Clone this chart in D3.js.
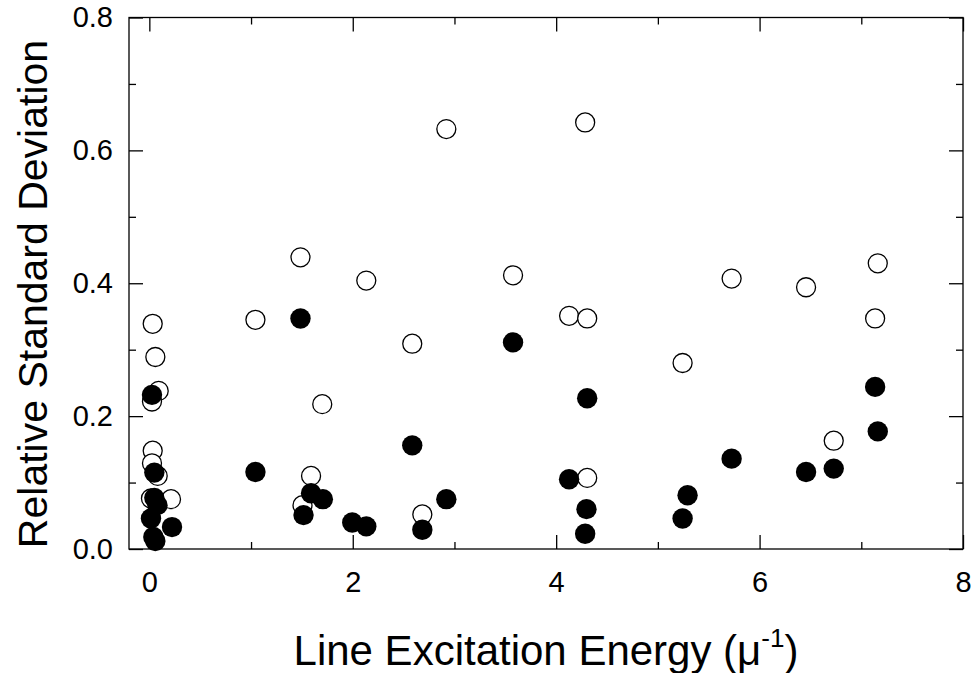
<!DOCTYPE html>
<html>
<head>
<meta charset="utf-8">
<script src="https://cdn.jsdelivr.net/npm/d3@7"></script>
<style>
  body { margin: 0; background: #fff; }
  .g-chart text { font-family: Arial, "Liberation Sans", sans-serif; fill: #000; }
</style>
</head>
<body>
<div class="g-chart"></div>
<script>
// open circles [energy, rsd]
var openPoints = [
  [0.033, 0.339], [0.059, 0.289], [0.092, 0.238], [0.026, 0.222], [0.033, 0.148],
  [0.026, 0.129], [0.082, 0.110], [0.213, 0.075], [0.016, 0.076],
  [1.043, 0.345], [1.486, 0.439], [1.590, 0.110], [1.506, 0.066], [1.700, 0.218],
  [2.133, 0.404], [2.585, 0.309], [2.684, 0.052], [2.920, 0.632], [3.576, 0.412],
  [4.127, 0.351], [4.305, 0.347], [4.285, 0.642], [4.305, 0.107], [5.243, 0.280],
  [5.725, 0.407], [6.457, 0.394], [6.729, 0.163], [7.136, 0.347], [7.162, 0.430]
];
// filled circles [energy, rsd]
var filledPoints = [
  [0.026, 0.232], [0.049, 0.115], [0.049, 0.077], [0.080, 0.066], [0.016, 0.046],
  [0.223, 0.033], [0.039, 0.018], [0.059, 0.012],
  [1.043, 0.116], [1.486, 0.347], [1.590, 0.084], [1.706, 0.075], [1.516, 0.051],
  [1.995, 0.040], [2.133, 0.034], [2.585, 0.156], [2.684, 0.029], [2.920, 0.075],
  [3.576, 0.311], [4.127, 0.105], [4.305, 0.227], [4.298, 0.060], [4.285, 0.023],
  [5.243, 0.046], [5.292, 0.081], [5.725, 0.136], [6.457, 0.116], [6.729, 0.121],
  [7.136, 0.244], [7.162, 0.177]
];
var xMajor = [0, 2, 4, 6, 8];
var xMinor = [1, 3, 5, 7];
var yMajor = [0, 0.2, 0.4, 0.6, 0.8];
var yMinor = [0.1, 0.3, 0.5, 0.7];

function drawChart() {
  var W = 977, H = 673;
  var margin = {top: 17.5, right: 14, bottom: 124, left: 129};
  var width = W - margin.left - margin.right;
  var height = H - margin.top - margin.bottom;

  var svg = d3.select(".g-chart").html("").append("svg")
      .attr("width", W)
      .attr("height", H);
  var g = svg.append("g")
      .attr("transform", "translate(" + margin.left + "," + margin.top + ")");

  var x = d3.scaleLinear().domain([-0.2, 8]).range([0, width]);
  var y = d3.scaleLinear().domain([0, 0.8]).range([height, 0]);

  function styleAxis(sel) {
    sel.attr("font-size", null).attr("font-family", null);
    sel.select(".domain").remove();
    sel.selectAll(".tick line").attr("stroke", "#000").attr("stroke-width", 1.3);
    sel.selectAll(".tick text").style("font-size", "29px");
  }

  // bottom
  g.append("g").attr("transform", "translate(0," + height + ")")
    .call(d3.axisBottom(x).tickValues(xMajor).tickSizeInner(-14).tickSizeOuter(0).tickPadding(22).tickFormat(d3.format("d")))
    .call(styleAxis);
  g.append("g").attr("transform", "translate(0," + height + ")")
    .call(d3.axisBottom(x).tickValues(xMinor).tickSizeInner(-7).tickSizeOuter(0).tickFormat(""))
    .call(styleAxis);
  // top
  g.append("g")
    .call(d3.axisTop(x).tickValues(xMajor).tickSizeInner(-14).tickSizeOuter(0).tickFormat(""))
    .call(styleAxis);
  g.append("g")
    .call(d3.axisTop(x).tickValues(xMinor).tickSizeInner(-7).tickSizeOuter(0).tickFormat(""))
    .call(styleAxis);
  // left
  g.append("g")
    .call(d3.axisLeft(y).tickValues(yMajor).tickSizeInner(-14).tickSizeOuter(0).tickPadding(16).tickFormat(d3.format(".1f")))
    .call(styleAxis);
  g.append("g")
    .call(d3.axisLeft(y).tickValues(yMinor).tickSizeInner(-7).tickSizeOuter(0).tickFormat(""))
    .call(styleAxis);
  // right
  g.append("g").attr("transform", "translate(" + width + ",0)")
    .call(d3.axisRight(y).tickValues(yMajor).tickSizeInner(-14).tickSizeOuter(0).tickFormat(""))
    .call(styleAxis);
  g.append("g").attr("transform", "translate(" + width + ",0)")
    .call(d3.axisRight(y).tickValues(yMinor).tickSizeInner(-7).tickSizeOuter(0).tickFormat(""))
    .call(styleAxis);

  // frame
  g.append("rect")
    .attr("width", width)
    .attr("height", height)
    .attr("fill", "none")
    .attr("stroke", "#000")
    .attr("stroke-width", 1.3);

  g.append("g").selectAll("circle")
    .data(openPoints)
    .join("circle")
      .attr("cx", d => x(d[0]))
      .attr("cy", d => y(d[1]))
      .attr("r", 9.5)
      .attr("fill", "#fff")
      .attr("stroke", "#000")
      .attr("stroke-width", 1.3);

  g.append("g").selectAll("circle")
    .data(filledPoints)
    .join("circle")
      .attr("cx", d => x(d[0]))
      .attr("cy", d => y(d[1]))
      .attr("r", 10.2)
      .attr("fill", "#000");

  // axis titles
  svg.append("text")
    .attr("transform", "translate(47,294) rotate(-90)")
    .attr("text-anchor", "middle")
    .style("font-size", "41px")
    .text("Relative Standard Deviation");

  var xt = svg.append("text")
    .attr("x", 546)
    .attr("y", 665)
    .attr("text-anchor", "middle")
    .style("font-size", "42px");
  xt.append("tspan").text("Line Excitation Energy (\u03bc");
  xt.append("tspan").attr("dy", -18).style("font-size", "26px").text("-1");
  xt.append("tspan").attr("dy", 18).text(")");
}

drawChart();
</script>
</body>
</html>
